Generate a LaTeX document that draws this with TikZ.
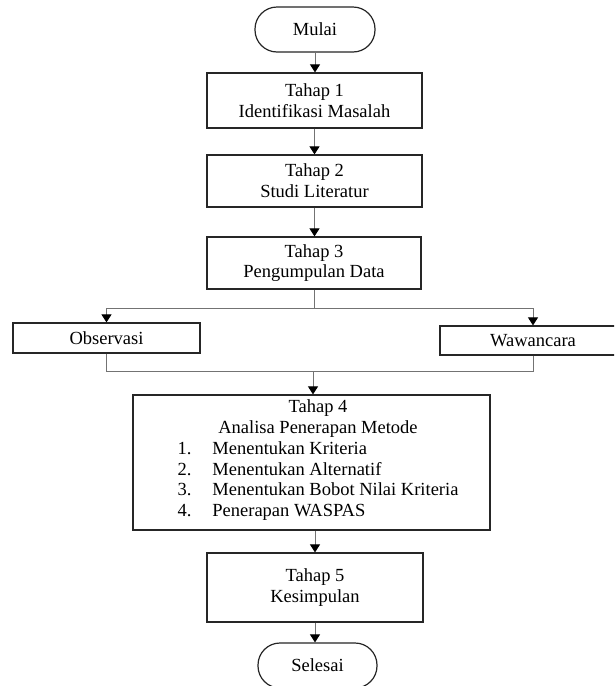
\documentclass[tikz,border=0pt]{standalone}
\usepackage{fontspec}
\setmainfont{Liberation Serif}
\usetikzlibrary{arrows.meta}
\begin{document}
\begin{tikzpicture}[x=1pt,y=-1pt,
  every node/.style={font=\fontsize{18.5}{20.7}\selectfont, inner sep=0pt},
  box/.style={draw=black!85, line width=1.2pt, rectangle, align=center},
  term/.style={box, rounded corners=22pt},
  conn/.style={draw=black!55, line width=0.9pt},
  arr/.style={conn, -{Triangle[length=8pt,width=10pt,color=black]}}]
\clip (0,0) rectangle (614,686);
\fill[white] (0,0) rectangle (614,686);
\node[term, minimum width=120pt, minimum height=45pt] (mulai) at (315,29.5) {Mulai};
\node[box, minimum width=215pt, minimum height=55pt] (t1) at (314.5,100.5) {Tahap 1\\Identifikasi Masalah};
\node[box, minimum width=215pt, minimum height=52pt] (t2) at (314.5,181) {Tahap 2\\Studi Literatur};
\node[box, minimum width=214pt, minimum height=52pt] (t3) at (314,263) {Tahap 3\\Pengumpulan Data};
\node[box, minimum width=187pt, minimum height=30pt] (obs) at (106.5,338) {Observasi};
\node[box, minimum width=186pt, minimum height=29pt] (waw) at (533,340.5) {Wawancara};
\node[box, minimum width=357pt, minimum height=135pt] (t4) at (311.5,462.5) {};
\node (t4txt) at (318,460.6) {\begin{tabular}{@{}l@{\hspace{21pt}}l@{}}
\multicolumn{2}{c}{Tahap 4}\\
\multicolumn{2}{c}{Analisa Penerapan Metode}\\
1. & Menentukan Kriteria\\
2. & Menentukan Alternatif\\
3. & Menentukan Bobot Nilai Kriteria\\
4. & Penerapan WASPAS
\end{tabular}};
\node[box, minimum width=216pt, minimum height=69pt] (t5) at (315,587.5) {Tahap 5\\Kesimpulan};
\node[term, minimum width=119pt, minimum height=45pt] (selesai) at (317.5,665.5) {Selesai};

\draw[arr] (mulai.south) -- (mulai.south |- t1.north);
\draw[arr] (t1.south) -- (t1.south |- t2.north);
\draw[arr] (t2.south) -- (t2.south |- t3.north);
\coordinate (split) at (313.5,308);
\draw[conn] (t3.south) -- (t3.south |- split);
\draw[arr] (split) -| (obs.north);
\draw[arr] (split) -| (waw.north);
\coordinate (join) at (313,371);
\draw[conn] (obs.south) |- (join);
\draw[conn] (waw.south) |- (join);
\draw[arr] (join) -- (join |- t4.north);
\draw[arr] (t4.south -| t5.north) -- (t5.north);
\draw[arr] (t5.south) -- (t5.south |- selesai.north);
\end{tikzpicture}
\end{document}
